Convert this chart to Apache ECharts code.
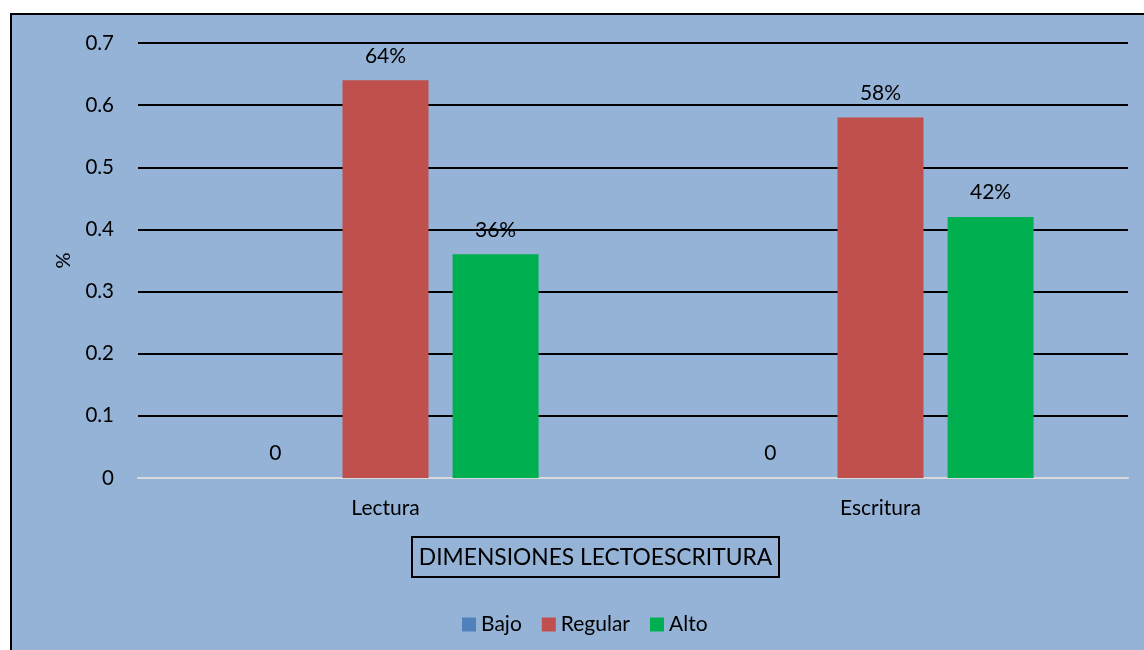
<!DOCTYPE html>
<html>
<head>
<meta charset="utf-8">
<script src="https://cdn.jsdelivr.net/npm/echarts@6/dist/echarts.min.js"></script>
<style>
html,body{margin:0;padding:0;background:#fff;overflow:hidden;}
#bg{position:absolute;left:10px;top:13px;width:1160px;height:660px;background:#95b3d7;border:2px solid #000;}
#c{position:absolute;left:0;top:0;width:1144px;height:650px;}
</style>
</head>
<body>
<div id="bg"></div>
<div id="c"></div>
<script>
const categories = ['Lectura', 'Escritura'];
const bajo = [0, 0];
const regular = [0.64, 0.58];
const alto = [0.36, 0.42];
const yTicks = [0, 0.1, 0.2, 0.3, 0.4, 0.5, 0.6, 0.7];

const font = 'Lato, "Open Sans", sans-serif';
const fmt = p => p.value === 0 ? '0' : Math.round(p.value * 100) + '%';
const lbl = {show: true, position: 'top', distance: 14, formatter: fmt, color: '#000', fontSize: 21, fontFamily: font};

const chart = echarts.init(document.getElementById('c'));
chart.setOption({
  backgroundColor: 'transparent',
  animation: false,
  grid: {left: 138, right: 16, top: 43, bottom: 172},
  legend: {
    left: 457, top: 609, itemWidth: 14, itemHeight: 14, itemGap: 20,
    icon: 'rect',
    textStyle: {color: '#000', fontSize: 21, fontFamily: font},
    data: ['Bajo', 'Regular', 'Alto']
  },
  xAxis: {
    type: 'category', data: categories,
    axisLine: {lineStyle: {color: '#d9d9d9', width: 2}},
    axisTick: {show: false},
    axisLabel: {color: '#000', fontSize: 21, fontFamily: font, margin: 20}
  },
  yAxis: {
    type: 'value', min: yTicks[0], max: yTicks[yTicks.length - 1], interval: 0.1,
    name: '%', nameLocation: 'middle', nameRotate: 90, nameGap: 64,
    nameTextStyle: {color: '#000', fontSize: 20, fontFamily: font},
    axisLine: {show: false}, axisTick: {show: false},
    axisLabel: {color: '#000', fontSize: 20.5, fontFamily: font, margin: 24,
      formatter: v => v === 0 ? '0' : v.toFixed(1)},
    splitLine: {lineStyle: {color: '#000', width: 2}}
  },
  graphic: [
    {type: 'rect', shape: {x: 412, y: 537, width: 367, height: 40},
     style: {fill: 'none', stroke: '#000', lineWidth: 2}},
    {type: 'text', x: 595.5, y: 558,
     style: {text: 'DIMENSIONES LECTOESCRITURA', fill: '#000', fontSize: 22.8, fontFamily: font,
       textAlign: 'center', textVerticalAlign: 'middle'}}
  ],
  series: [
    {name: 'Bajo', type: 'bar', data: bajo, barWidth: 86, barGap: '28%', itemStyle: {color: '#4f81bd'}, label: lbl},
    {name: 'Regular', type: 'bar', data: regular, barWidth: 86, barGap: '28%', itemStyle: {color: '#c0504d'}, label: lbl},
    {name: 'Alto', type: 'bar', data: alto, barWidth: 86, barGap: '28%', itemStyle: {color: '#00b050'}, label: lbl}
  ]
});
</script>
</body>
</html>
